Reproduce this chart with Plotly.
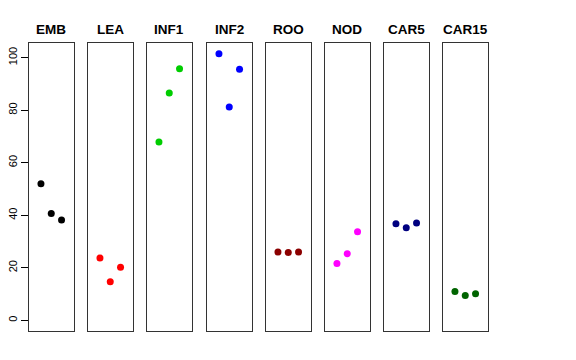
import plotly.graph_objects as go

categories = ["EMB", "LEA", "INF1", "INF2", "ROO", "NOD", "CAR5", "CAR15"]
colors = ["#000000", "#FF0000", "#00CD00", "#0000FF", "#8B0000", "#FF00FF", "#000080", "#006400"]
replicates = [1, 2, 3]
values = {
    "EMB": [52.0, 40.7, 38.2],
    "LEA": [23.7, 14.7, 20.2],
    "INF1": [67.9, 86.6, 95.8],
    "INF2": [101.5, 81.2, 95.6],
    "ROO": [26.0, 25.8, 26.0],
    "NOD": [21.6, 25.4, 33.7],
    "CAR5": [36.8, 35.3, 37.1],
    "CAR15": [11.0, 9.5, 10.1],
}
y_ticks = [0, 20, 40, 60, 80, 100]

# page body has an 8px margin; figure coordinates are page coordinates minus 8
OFF = 8
W, H = 576 - OFF, 360 - OFF
panel_left = [29, 88, 147, 207, 266, 325, 384, 443]
panel_w = 44.5
top, bottom = 43, 331
ymin, ymax = -4.06, 105.6

fig = go.Figure()
for i, cat in enumerate(categories):
    ax = "" if i == 0 else str(i + 1)
    fig.add_trace(go.Scatter(
        x=replicates, y=values[cat], mode="markers",
        marker=dict(color=colors[i], size=7),
        xaxis="x" + ax, yaxis="y" + ax, showlegend=False, hoverinfo="skip"))
    x0 = (panel_left[i] - OFF) / W
    x1 = (panel_left[i] - OFF + panel_w) / W
    xa = dict(domain=[x0, x1], range=[-0.16, 4.16], showticklabels=False, ticks="",
              showgrid=False, zeroline=False, showline=True, mirror=True,
              linecolor="#333333", linewidth=1, anchor="y" + ax, automargin=False)
    ya = dict(domain=[1 - (bottom - OFF) / H, 1 - (top - OFF) / H], range=[ymin, ymax],
              showgrid=False, zeroline=False, showline=True, mirror=True,
              linecolor="#333333", linewidth=1, anchor="x" + ax, automargin=False)
    if i == 0:
        ya.update(tickvals=y_ticks, ticktext=[str(v) for v in y_ticks], ticks="outside",
                  ticklen=7, tickcolor="#000000", tickangle=-90,
                  tickfont=dict(family="Liberation Sans", size=11, color="#000000"))
    else:
        ya.update(showticklabels=False, ticks="")
    fig.update_layout(**{"xaxis" + ax: xa, "yaxis" + ax: ya})
    fig.add_annotation(text="<b>" + cat + "</b>", x=(x0 + x1) / 2, y=1 - (29.2 - OFF) / H,
                       xref="paper", yref="paper", showarrow=False,
                       xanchor="center", yanchor="middle",
                       font=dict(family="Liberation Sans", size=13.5, color="#000000"))

fig.update_layout(width=W, height=H, margin=dict(l=0, r=0, t=0, b=0, autoexpand=False),
                  paper_bgcolor="white", plot_bgcolor="white")
fig.write_html("out.html")
